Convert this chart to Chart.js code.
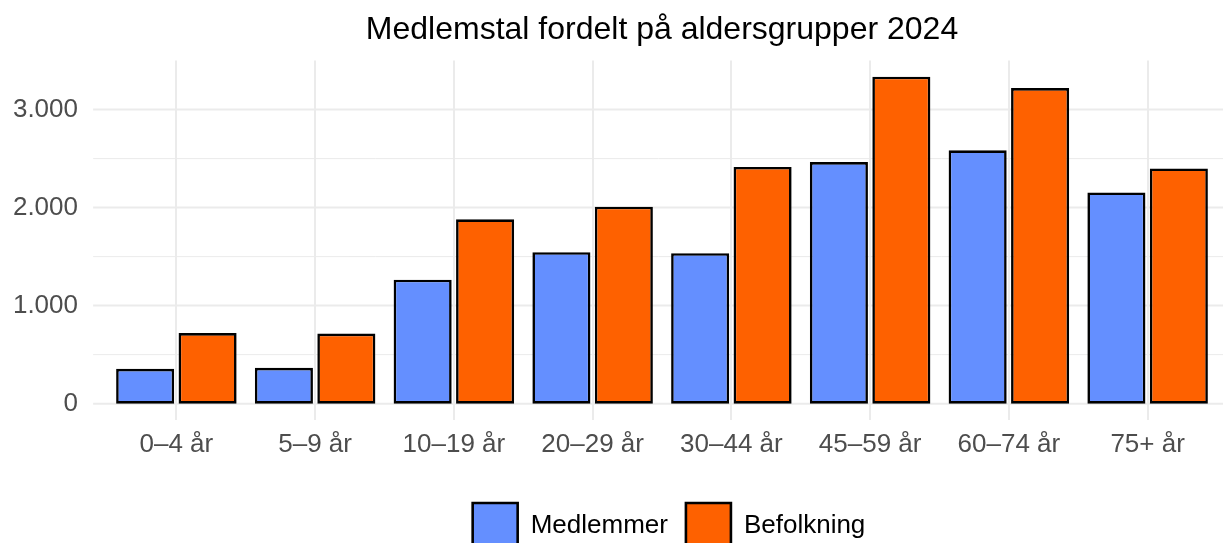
<!DOCTYPE html>
<html>
<head>
<meta charset="utf-8">
<script src="https://cdn.jsdelivr.net/npm/chart.js@4.4.1/dist/chart.umd.min.js"></script>
<style>
    html, body { margin: 0; padding: 0; background: #ffffff; overflow: hidden; }
    #wrap { width: 1223px; height: 558px; }
</style>
</head>
<body>
<div id="wrap"><canvas id="chart" width="1223" height="558"></canvas></div>
<script>
// Medlemstal vs. befolkning per aldersgruppe

const categories = ["0–4 år", "5–9 år", "10–19 år", "20–29 år", "30–44 år", "45–59 år", "60–74 år", "75+ år"];
const medlemmer = [355, 365, 1265, 1545, 1535, 2465, 2585, 2155];
const befolkning = [720, 715, 1880, 2010, 2415, 3335, 3220, 2400];
const majorTicks = [0, 1000, 2000, 3000];
const minorTicks = [500, 1500, 2500];

const FONT = "'Liberation Sans', Arial, Helvetica, sans-serif";
const GRID = "#ebebeb";

function fmtThousands(v) {
    return String(v).replace(/\B(?=(\d{3})+(?!\d))/g, ".");
}

// horizontal grid drawn across the whole panel (ggplot expands discrete axes by 0.6)
const panelGrid = {
    id: "panelGrid",
    afterLayout(chart) {
        // legend sits a bit right of the panel centre in the original
        chart.legend.left += 7;
        chart.legend.right += 7;
    },
    beforeDatasetsDraw(chart) {
        const { ctx, chartArea, scales } = chart;
        const cw = (chartArea.right - chartArea.left) / categories.length;
        const x0 = chartArea.left - 0.1 * cw;
        const x1 = chartArea.right + 0.1 * cw;
        ctx.save();
        ctx.strokeStyle = GRID;
        const draw = (v, w) => {
            const y = scales.y.getPixelForValue(v);
            ctx.lineWidth = w;
            ctx.beginPath();
            ctx.moveTo(x0, y);
            ctx.lineTo(x1, y);
            ctx.stroke();
        };
        minorTicks.forEach(v => draw(v, 1));
        majorTicks.forEach(v => draw(v, 2));
        ctx.restore();
    }
};

new Chart(document.getElementById("chart"), {
    type: "bar",
    data: {
        labels: categories,
        datasets: [
            {
                label: "Medlemmer",
                data: medlemmer,
                backgroundColor: "#648FFF",
                borderColor: "#000000",
                borderWidth: 2.6,
                borderSkipped: false
            },
            {
                label: "Befolkning",
                data: befolkning,
                backgroundColor: "#FE6100",
                borderColor: "#000000",
                borderWidth: 2.6,
                borderSkipped: false
            }
        ]
    },
    options: {
        responsive: false,
        animation: false,
        events: [],
        layout: { padding: { left: 0, right: 6, top: 0, bottom: 0 } },
        datasets: {
            bar: { categoryPercentage: 0.9, barPercentage: 0.93 }
        },
        scales: {
            x: {
                offset: true,
                grid: { offset: false, color: GRID, lineWidth: 2, drawTicks: false },
                border: { display: false },
                ticks: {
                    color: "#4d4d4d",
                    font: { family: FONT, size: 26 },
                    padding: 9,
                    maxRotation: 0,
                    autoSkip: false
                },
                afterFit(scale) { scale.height = 65; }
            },
            y: {
                min: -167,
                max: 3502,
                grid: { display: false, drawTicks: false },
                border: { display: false },
                afterBuildTicks(scale) {
                    scale.ticks = majorTicks.map(v => ({ value: v }));
                },
                ticks: {
                    color: "#4d4d4d",
                    font: { family: FONT, size: 26 },
                    padding: 29,
                    callback: v => fmtThousands(v)
                },
                afterFit(scale) { scale.width = 107; }
            }
        },
        plugins: {
            title: {
                display: true,
                text: "Medlemstal fordelt på aldersgrupper 2024",
                color: "#000000",
                fullSize: false,
                font: { family: FONT, size: 32, weight: "normal" },
                padding: { top: 11, bottom: 11 }
            },
            legend: {
                display: true,
                position: "bottom",
                fullSize: false,
                labels: {
                    color: "#000000",
                    font: { family: FONT, size: 26 },
                    boxWidth: 45,
                    boxHeight: 45,
                    padding: 18
                }
            },
            tooltip: { enabled: false }
        }
    },
    plugins: [panelGrid]
});
</script>
</body>
</html>
